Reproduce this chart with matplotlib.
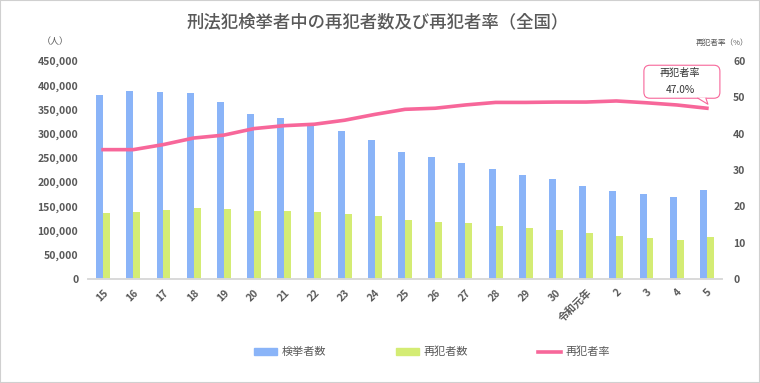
import numpy as np
import matplotlib
matplotlib.use('Agg')
import matplotlib.pyplot as plt
import matplotlib.transforms as mtransforms
from matplotlib.ticker import FuncFormatter, MultipleLocator
from matplotlib.patches import Rectangle, FancyBboxPatch, Polygon, Patch
from matplotlib.lines import Line2D

plt.rcParams['font.family'] = ['Noto Sans CJK JP', 'DejaVu Sans']

# 年（平成15年～令和5年）
years = ['15', '16', '17', '18', '19', '20', '21', '22', '23', '24', '25',
         '26', '27', '28', '29', '30', '令和元年', '2', '3', '4', '5']
# 検挙者数
arrests = [379602, 389027, 386955, 384250, 365577, 339752, 332888, 322620,
           305631, 287021, 262486, 251115, 239355, 226376, 215003, 206094,
           192607, 182582, 175041, 169409, 183269]
# 再犯者数
repeaters = [135295, 139296, 142000, 147000, 144000, 141000, 140431, 137500,
             133724, 130077, 122638, 118381, 114944, 110306, 104774, 100601,
             93967, 89667, 85032, 81183, 86099]
# 再犯者率（%）
rate = [35.6, 35.6, 37.0, 38.8, 39.6, 41.4, 42.2, 42.6, 43.7, 45.3, 46.7,
        47.0, 47.9, 48.6, 48.6, 48.7, 48.7, 49.0, 48.5, 47.9, 47.0]

blue = '#8AB4F8'
green = '#D4EC74'
pink = '#F7679A'
grey = '#595959'

x = np.arange(len(years))
w = 0.23

fig = plt.figure(figsize=(7.6, 3.83), dpi=100)
fig.patches.append(Rectangle((0, 0), 1, 1, transform=fig.transFigure,
                             fill=False, edgecolor='#D0D0D0', linewidth=1.5))

ax = fig.add_axes([88 / 760, 1 - 279 / 383, (722 - 88) / 760, (279 - 61) / 383])
ax2 = ax.twinx()

ax.bar(x - w / 2, arrests, width=w, color=blue, label='検挙者数')
ax.bar(x + w / 2, repeaters, width=w, color=green, label='再犯者数')
ax2.plot(x, rate, color=pink, linewidth=2.6, label='再犯者率')

ax.set_xlim(-0.5, len(years) - 0.5)
ax.set_ylim(0, 450000)
ax2.set_ylim(0, 60)
ax.yaxis.set_major_locator(MultipleLocator(50000))
ax2.yaxis.set_major_locator(MultipleLocator(10))
ax.yaxis.set_major_formatter(FuncFormatter(lambda v, p: f'{int(v):,}'))

for a in (ax, ax2):
    for s in ('top', 'left', 'right'):
        a.spines[s].set_visible(False)
    a.spines['bottom'].set_color('#D9D9D9')
    a.spines['bottom'].set_linewidth(1.2)
    a.tick_params(length=0, colors=grey, labelsize=7.5)
    for lbl in a.get_yticklabels():
        lbl.set_fontweight('bold')

ax.tick_params(axis='y', pad=7)
ax2.tick_params(axis='y', pad=8)
ax.set_xticks(x)
ax.set_xticklabels(years, rotation=45, ha='right', va='top',
                   rotation_mode='anchor', fontsize=7.5, color=grey,
                   fontweight='bold')
ax.tick_params(axis='x', pad=6)

# 単位
fig.text(55 / 760, 1 - 42 / 383, '（人）', fontsize=6.5, color=grey,
         ha='center', va='center')
fig.text(722 / 760, 1 - 43 / 383, '再犯者率（%）', fontsize=5.5, color=grey,
         ha='center', va='center')

fig.text(378 / 760, 1 - 22 / 383, '刑法犯検挙者中の再犯者数及び再犯者率（全国）',
         fontsize=12.5, color=grey, ha='center', va='center', fontweight='medium')

# 吹き出し（最終年の再犯者率を指す）
tip = ax2.transData.transform((x[-1], rate[-1])) + np.array([1, 4])
bt = mtransforms.Affine2D().translate(*tip)
ax2.add_patch(FancyBboxPatch((-64, 6), 76, 33,
                             boxstyle='round,pad=0,rounding_size=6',
                             transform=bt, fc='white', ec=pink, lw=0.8,
                             clip_on=False, zorder=5))
ax2.add_patch(Polygon([(-10, 6.6), (-2, 6.6), (0, 0)], closed=True,
                      transform=bt, fc='white', ec='none', clip_on=False,
                      zorder=6))
ax2.add_line(Line2D([-10, 0, -2], [6, 0, 6], transform=bt, color=pink,
                    lw=0.8, clip_on=False, zorder=7))
ax2.text(-28, 31, '再犯者率', transform=bt, ha='center', va='center',
         fontsize=7.3, color='#333333', zorder=8)
ax2.text(-28, 14, f'{rate[-1]:.1f}%', transform=bt, ha='center', va='center',
         fontsize=7.3, color='#333333', zorder=8)

handles = [Patch(color=blue), Patch(color=green),
           Line2D([], [], color=pink, linewidth=2.6)]
fig.legend(handles, ['検挙者数', '再犯者数', '再犯者率'], loc='center',
           bbox_to_anchor=(432 / 760, 1 - 352 / 383), ncol=3, frameon=False,
           fontsize=8, handlelength=2.1, handletextpad=0.4, columnspacing=6.25,
           labelcolor=grey, handleheight=0.6)

fig.savefig('out.png', dpi=100)
